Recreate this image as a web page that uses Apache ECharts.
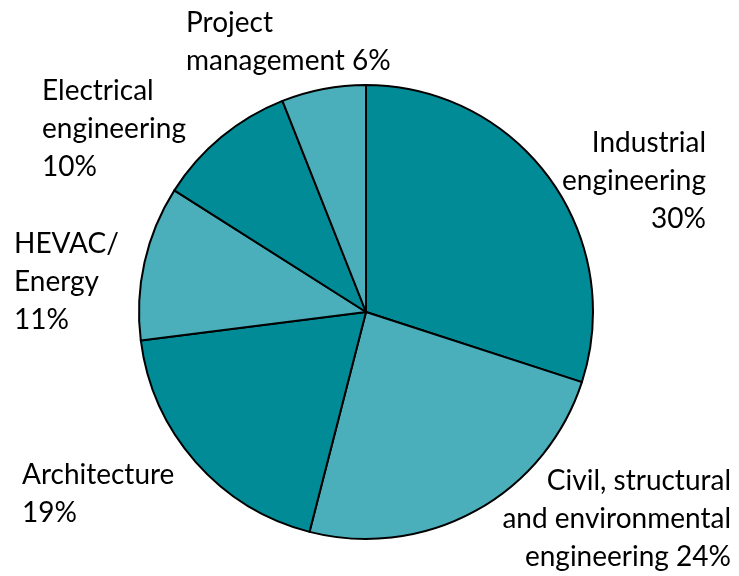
<!DOCTYPE html>
<html>
<head>
<meta charset="utf-8">
<script src="https://cdn.jsdelivr.net/npm/echarts@6/dist/echarts.min.js"></script>
<style>
    html, body { margin: 0; padding: 0; background: #fff; }
    #chart { width: 739px; height: 576px; }
</style>
</head>
<body>
<div id="chart"></div>
<script>
// slices, clockwise from 12 o'clock
const categories = [
    'Industrial\nengineering',
    'Civil, structural\nand environmental\nengineering',
    'Architecture',
    'HEVAC/\nEnergy',
    'Electrical\nengineering',
    'Project\nmanagement'
];
const shares = [30, 24, 19, 11, 10, 6];
// separator between the name and the percentage in each label
const percentJoin = ['\n', ' ', '\n', '\n', '\n', ' '];

const dark = '#008b96';
const light = '#4bafbb';
const sliceColors = [dark, light, dark, light, dark, light];

// where each label block sits (x, vertical centre, alignment)
const labelSpots = [
    { x: 706, y: 181, align: 'right' },
    { x: 731, y: 519, align: 'right' },
    { x: 22, y: 494, align: 'left' },
    { x: 14, y: 282, align: 'left' },
    { x: 42, y: 129, align: 'left' },
    { x: 186, y: 42, align: 'left' }
];

const chart = echarts.init(document.getElementById('chart'));

chart.setOption({
    animation: false,
    series: [{
        type: 'pie',
        center: [366, 312],
        radius: 227,
        startAngle: 90,
        clockwise: true,
        data: categories.map((name, i) => ({
            name: name,
            value: shares[i],
            itemStyle: { color: sliceColors[i] }
        })),
        itemStyle: {
            borderColor: '#000',
            borderWidth: 2
        },
        label: {
            show: true,
            position: 'outside',
            overflow: 'none',
            formatter: function (p) {
                return p.name + percentJoin[p.dataIndex] + p.value + '%';
            },
            fontFamily: 'Lato',
            fontSize: 28,
            lineHeight: 38,
            color: '#000'
        },
        labelLine: { show: false },
        labelLayout: function (params) {
            const s = labelSpots[params.dataIndex];
            return {
                x: s.x,
                y: s.y,
                align: s.align,
                verticalAlign: 'middle'
            };
        },
        emphasis: { disabled: true }
    }]
});
</script>
</body>
</html>
